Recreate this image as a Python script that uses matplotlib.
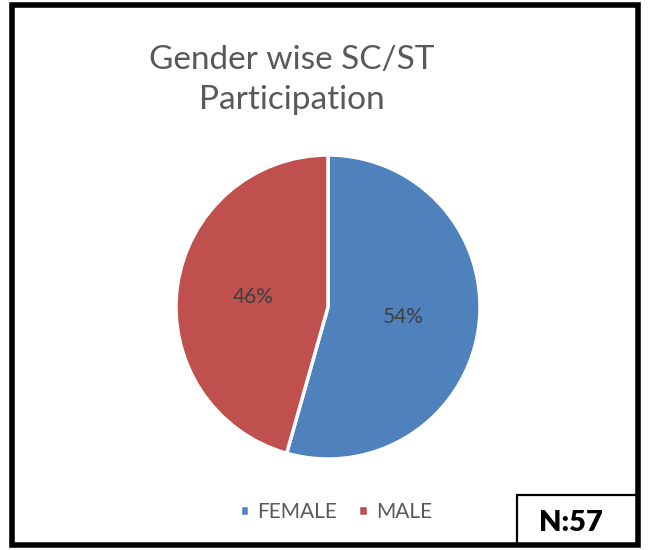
import matplotlib
matplotlib.use("Agg")
import matplotlib.pyplot as plt
from matplotlib.patches import Rectangle

# data
labels = ["FEMALE", "MALE"]
counts = [31, 26]
colors = ["#4F81BD", "#C0504D"]
title = "Gender wise SC/ST\nParticipation"
n_text = "N:57"

plt.rcParams['font.family'] = ['Lato', 'DejaVu Sans']

W, H = 651, 550
fig = plt.figure(figsize=(W / 100, H / 100), dpi=100)

# outer black frame
fig.patches.append(Rectangle((12 / W, 5 / H), 626 / W, 540 / H, transform=fig.transFigure,
                             fill=False, edgecolor="black", linewidth=4, zorder=5))

# pie axes placed by pixels (center 328,307 r 152)
cx, cy, r = 328, 307, 152
ax = fig.add_axes([(cx - r) / W, (H - cy - r) / H, 2 * r / W, 2 * r / H])
wedges, _, autotexts = ax.pie(counts, colors=colors, startangle=90, counterclock=False,
                              autopct=lambda p: "%d%%" % round(p), pctdistance=0.5,
                              wedgeprops=dict(edgecolor="white", linewidth=2.5),
                              textprops=dict(color="#404040", fontsize=15))
ax.set_xlim(-1.0, 1.0)
ax.set_ylim(-1.0, 1.0)
ax.set_aspect("equal")
ax.axis("off")

fig.text(292 / W, 1 - 80 / H, title, ha="center", va="center", fontsize=24,
         color="#595959", linespacing=1.42)

fig.legend(wedges, labels, loc="center", bbox_to_anchor=(336 / W, 1 - 512 / H),
           ncol=2, frameon=False, fontsize=15, labelcolor="#595959",
           handlelength=0.45, handleheight=0.45, handletextpad=0.4, columnspacing=1.0)

# N box bottom right
fig.patches.append(Rectangle((517 / W, 5 / H), 121 / W, 50 / H, transform=fig.transFigure,
                             fill=False, edgecolor="black", linewidth=1.6, zorder=4))
fig.text(571 / W, 1 - 523 / H, n_text, ha="center", va="center", fontsize=21,
         fontweight="heavy", color="black")

fig.savefig("out.png", dpi=100, facecolor="white")
